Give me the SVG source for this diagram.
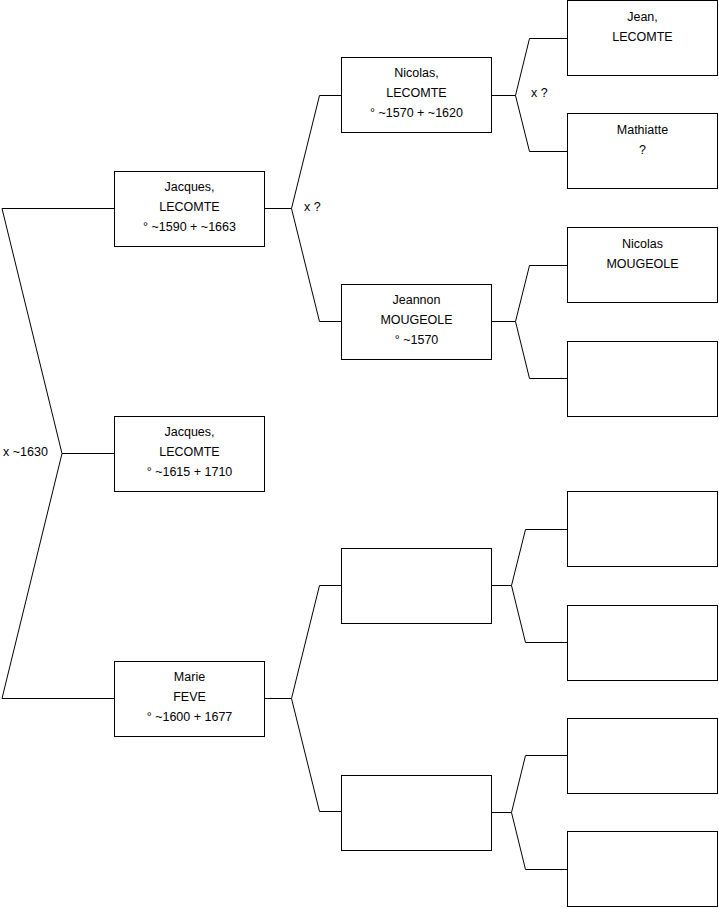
<svg xmlns="http://www.w3.org/2000/svg" width="719" height="908" viewBox="0 0 719 908">
<style>
.box{fill:#fff;stroke:#000;stroke-width:1}
.ln{fill:none;stroke:#000;stroke-width:1}
text{font-family:"Liberation Sans",Arial,sans-serif;font-size:12.5px;fill:#000}
.c{text-anchor:middle}
</style>
<rect width="719" height="908" fill="#fff"/>
<g id="connectors">
<polyline class="ln" points="114,208.5 2,208.5 62,453.5 2,698.5 114,698.5"/>
<line class="ln" x1="62" y1="453.5" x2="114" y2="453.5"/>
<polyline class="ln" points="341,95.5 319.5,95.5 291.5,208.5 319.5,321.5 341,321.5"/>
<line class="ln" x1="265" y1="208.5" x2="291.5" y2="208.5"/>
<polyline class="ln" points="341,585.5 319.5,585.5 291.5,698.5 319.5,811.5 341,811.5"/>
<line class="ln" x1="265" y1="698.5" x2="291.5" y2="698.5"/>
<polyline class="ln" points="567,38.5 529.5,38.5 515.5,95.5 529.5,151.5 567,151.5"/>
<line class="ln" x1="492" y1="95.5" x2="515.5" y2="95.5"/>
<polyline class="ln" points="567,265.5 529.5,265.5 515.5,321.5 529.5,378.5 567,378.5"/>
<line class="ln" x1="492" y1="321.5" x2="515.5" y2="321.5"/>
<polyline class="ln" points="567,529.5 525.5,529.5 511.5,585.5 525.5,642.5 567,642.5"/>
<line class="ln" x1="492" y1="585.5" x2="511.5" y2="585.5"/>
<polyline class="ln" points="567,755.5 525.5,755.5 511.5,812.5 525.5,869.5 567,869.5"/>
<line class="ln" x1="492" y1="812.5" x2="511.5" y2="812.5"/>
<text x="3" y="456">x ~1630</text>
<text x="304" y="211">x ?</text>
<text x="531" y="97">x ?</text>
</g>
<g id="jacques-1590">
<rect class="box" x="114.5" y="171.5" width="150" height="75"/>
<text class="c" x="189.5" y="191">Jacques,</text>
<text class="c" x="189.5" y="211">LECOMTE</text>
<text class="c" x="189.5" y="231">° ~1590 + ~1663</text>
</g>
<g id="jacques-1615">
<rect class="box" x="114.5" y="416.5" width="150" height="75"/>
<text class="c" x="189.5" y="436">Jacques,</text>
<text class="c" x="189.5" y="456">LECOMTE</text>
<text class="c" x="189.5" y="476">° ~1615 + 1710</text>
</g>
<g id="marie-feve">
<rect class="box" x="114.5" y="661.5" width="150" height="75"/>
<text class="c" x="189.5" y="681">Marie</text>
<text class="c" x="189.5" y="701">FEVE</text>
<text class="c" x="189.5" y="721">° ~1600 + 1677</text>
</g>
<g id="nicolas-lecomte">
<rect class="box" x="341.5" y="57.5" width="150" height="75"/>
<text class="c" x="416.5" y="77">Nicolas,</text>
<text class="c" x="416.5" y="97">LECOMTE</text>
<text class="c" x="416.5" y="117">° ~1570 + ~1620</text>
</g>
<g id="jeannon-mougeole">
<rect class="box" x="341.5" y="284.5" width="150" height="75"/>
<text class="c" x="416.5" y="304">Jeannon</text>
<text class="c" x="416.5" y="324">MOUGEOLE</text>
<text class="c" x="416.5" y="344">° ~1570</text>
</g>
<g id="l2-empty-1">
<rect class="box" x="341.5" y="548.5" width="150" height="75"/>
</g>
<g id="l2-empty-2">
<rect class="box" x="341.5" y="775.5" width="150" height="75"/>
</g>
<g id="jean-lecomte">
<rect class="box" x="567.5" y="0.5" width="150" height="75"/>
<text class="c" x="642.5" y="21">Jean,</text>
<text class="c" x="642.5" y="41">LECOMTE</text>
</g>
<g id="mathiatte">
<rect class="box" x="567.5" y="113.5" width="150" height="75"/>
<text class="c" x="642.5" y="134">Mathiatte</text>
<text class="c" x="642.5" y="154">?</text>
</g>
<g id="nicolas-mougeole">
<rect class="box" x="567.5" y="227.5" width="150" height="75"/>
<text class="c" x="642.5" y="248">Nicolas</text>
<text class="c" x="642.5" y="268">MOUGEOLE</text>
</g>
<g id="l3-empty-4">
<rect class="box" x="567.5" y="341.5" width="150" height="75"/>
</g>
<g id="l3-empty-5">
<rect class="box" x="567.5" y="491.5" width="150" height="75"/>
</g>
<g id="l3-empty-6">
<rect class="box" x="567.5" y="605.5" width="150" height="75"/>
</g>
<g id="l3-empty-7">
<rect class="box" x="567.5" y="718.5" width="150" height="75"/>
</g>
<g id="l3-empty-8">
<rect class="box" x="567.5" y="831.5" width="150" height="75"/>
</g>
</svg>
